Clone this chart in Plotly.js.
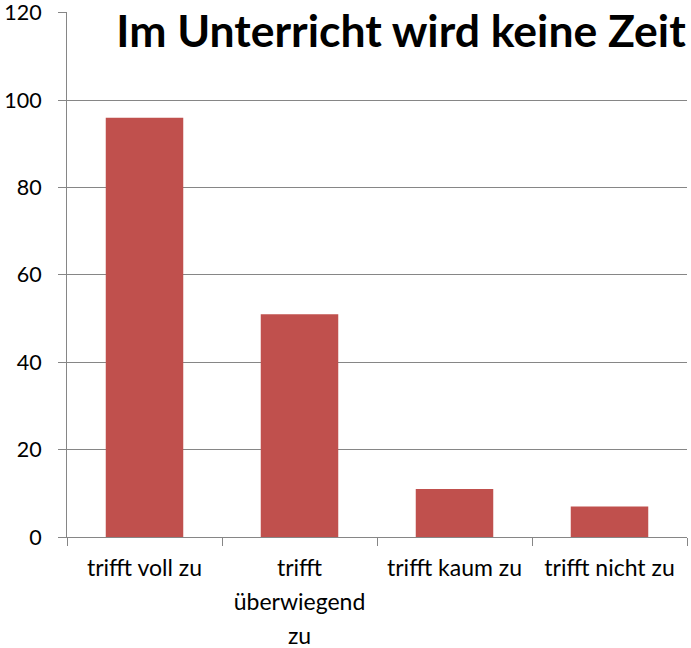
<!DOCTYPE html>
<html>
<head>
<meta charset="utf-8">
<script src="https://cdn.plot.ly/plotly-3.0.1.min.js"></script>
<style>
  html, body { margin: 0; padding: 0; background: #fff; }
  #plot { width: 691px; height: 648px; }
</style>
</head>
<body>
<div id="plot"></div>
<script>
var categories = ['trifft voll zu', 'trifft überwiegend zu', 'trifft kaum zu', 'trifft nicht zu'];
var tickLabels = ['trifft voll zu', 'trifft<br>überwiegend<br>zu', 'trifft kaum zu', 'trifft nicht zu'];
var values = [96, 51, 11, 7];
var yTicks = [0, 20, 40, 60, 80, 100, 120];

var trace = {
  x: categories,
  y: values,
  type: 'bar',
  width: 0.5,
  marker: {color: '#C0504D'},
  hoverinfo: 'x+y'
};

// big em on the label box gives the wide line spacing, inner span sets the visible size
var wrapped = tickLabels.map(function (t) {
  return '<span style="font-size:23px">' + t + '</span>';
});

var layout = {
  width: 691,
  height: 648,
  margin: {l: 67, r: 4, t: 12, b: 111},
  paper_bgcolor: '#fff',
  plot_bgcolor: '#fff',
  font: {family: 'Lato, "Open Sans", sans-serif', size: 18, color: '#000'},
  showlegend: false,
  title: {
    text: '<b>Im Unterricht wird keine Zeit</b>',
    font: {size: 44.5, color: '#000'},
    xref: 'container', yref: 'container',
    x: 401 / 691, y: 1 - 31 / 648,
    xanchor: 'center', yanchor: 'middle'
  },
  xaxis: {
    type: 'category',
    tickmode: 'array',
    tickvals: categories,
    ticktext: wrapped,
    tickfont: {size: 26},
    tickson: 'boundaries',
    ticks: 'outside',
    ticklen: 8,
    tickcolor: '#868686',
    ticklabelstandoff: 7,
    showline: true,
    linecolor: '#868686',
    linewidth: 1,
    showgrid: false,
    tickangle: 0,
    automargin: false
  },
  yaxis: {
    range: [0, 120.2],
    tickvals: yTicks,
    tickfont: {size: 21.5},
    ticklabeloverflow: 'allow',
    ticks: 'outside',
    ticklen: 8,
    tickcolor: '#868686',
    ticklabelstandoff: 12,
    showline: true,
    linecolor: '#868686',
    gridcolor: '#868686',
    gridwidth: 1,
    zeroline: false,
    automargin: false
  },
  bargap: 0.5
};

Plotly.newPlot('plot', [trace], layout, {displayModeBar: false});
</script>
</body>
</html>
